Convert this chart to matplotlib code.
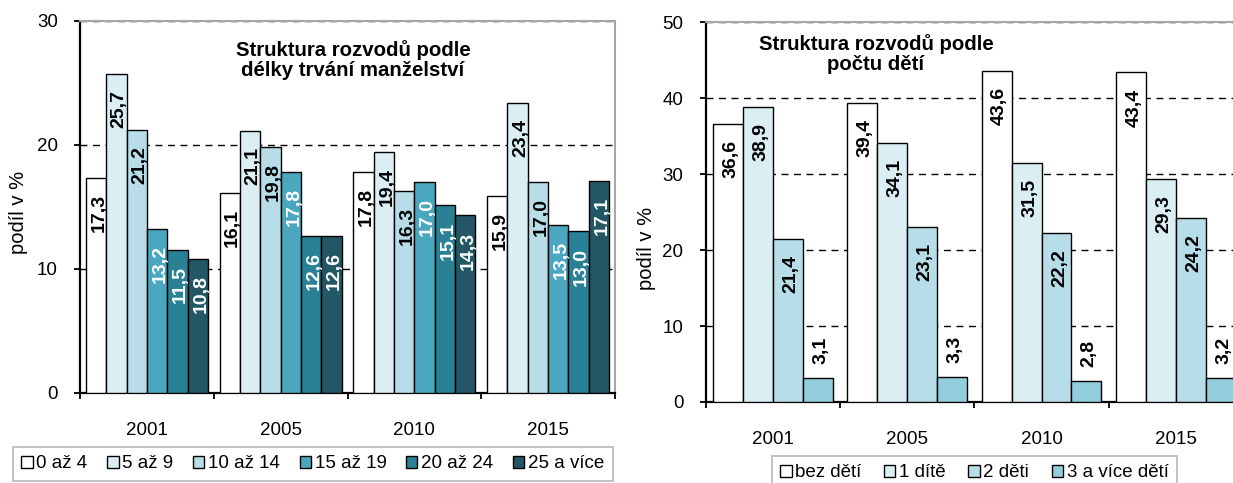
import numpy as np
import matplotlib.pyplot as plt
from matplotlib.patches import Patch

plt.rcParams['font.family'] = ['Liberation Sans', 'DejaVu Sans']

years = ['2001', '2005', '2010', '2015']

# struktura rozvodů podle délky trvání manželství (podíl v %)
dur_labels = ['0 až 4', '5 až 9', '10 až 14', '15 až 19', '20 až 24', '25 a více']
dur_values = [
    [17.3, 16.1, 17.8, 15.9],
    [25.7, 21.1, 19.4, 23.4],
    [21.2, 19.8, 16.3, 17.0],
    [13.2, 17.8, 17.0, 13.5],
    [11.5, 12.6, 15.1, 13.0],
    [10.8, 12.6, 14.3, 17.1],
]
dur_colors = ['#FFFFFF', '#DBEEF4', '#B7DDE8', '#4BA7C0', '#2A8095', '#235766']
dur_textcol = ['black', 'black', 'black', 'white', 'white', 'white']

# struktura rozvodů podle počtu dětí (podíl v %)
kid_labels = ['bez dětí', '1 dítě', '2 děti', '3 a více dětí']
kid_values = [
    [36.6, 39.4, 43.6, 43.4],
    [38.9, 34.1, 31.5, 29.3],
    [21.4, 23.1, 22.2, 24.2],
    [3.1, 3.3, 2.8, 3.2],
]
kid_colors = ['#FFFFFF', '#DBEEF4', '#B7DDE8', '#92CDDC']
kid_textcol = ['black', 'black', 'black', 'black']

W, H = 1233, 483
fig = plt.figure(figsize=(W / 100, H / 100), dpi=100)


def draw(ax, values, colors, textcol, frac, ymax, ystep):
    n = len(values)
    x = np.arange(len(years))
    w = frac / n
    for i, (vals, c) in enumerate(zip(values, colors)):
        pos = x + (i - (n - 1) / 2) * w
        bars = ax.bar(pos, vals, w, color=c, edgecolor='black', linewidth=1.0, zorder=3)
        for b, v in zip(bars, vals):
            txt = f'{v:.1f}'.replace('.', ',')
            cx = b.get_x() + b.get_width() / 2
            if v < 5:
                ax.annotate(txt, (cx, v), xytext=(3, 14), textcoords='offset pixels',
                            rotation=90, ha='center', va='bottom', fontsize=14,
                            fontweight='bold', color=textcol[i], zorder=4)
            else:
                ax.annotate(txt, (cx, v), xytext=(3, -16), textcoords='offset pixels',
                            rotation=90, ha='center', va='top', fontsize=14,
                            fontweight='bold', color=textcol[i], zorder=4)

    ax.set_xlim(-0.5, len(years) - 0.5)
    ax.set_ylim(0, ymax)
    ax.set_yticks(np.arange(0, ymax + 1, ystep))
    ax.set_xticks(x)
    ax.set_xticklabels(years)
    ax.set_xticks(np.arange(-0.5, len(years), 1), minor=True)
    ax.tick_params(axis='x', which='major', length=0, pad=21, labelsize=13.5)
    ax.tick_params(axis='x', which='minor', length=4, width=1.3, direction='out')
    ax.tick_params(axis='y', length=4.5, width=1.3, direction='out', pad=11.5, labelsize=13.5)

    ax.set_axisbelow(True)
    ax.yaxis.grid(True, color='black', linestyle=(0, (5, 4)), linewidth=1.0)
    for s in ['left', 'bottom']:
        ax.spines[s].set_linewidth(1.6)
        ax.spines[s].set_color('black')
    for s in ['top', 'right']:
        ax.spines[s].set_linewidth(1.5)
        ax.spines[s].set_color('#A6A6A6')


# left chart
ax1 = fig.add_axes([80 / W, 1 - 392.7 / H, (615 - 80) / W, (392.7 - 20.7) / H])
draw(ax1, dur_values, dur_colors, dur_textcol, 0.914, 30, 10)
fig.text(353 / W, 1 - 60 / H, 'Struktura rozvodů podle\ndélky trvání manželství',
         ha='center', va='center', fontsize=14.7, fontweight='bold', linespacing=1.1)
fig.text(19 / W, 1 - 212 / H, 'podíl v %', rotation=90, ha='center', va='center', fontsize=14.5)

# right chart (extends past the right edge of the image)
ax2 = fig.add_axes([705.7 / W, 1 - 402 / H, (1243 - 705.7) / W, (402 - 22.3) / H])
draw(ax2, kid_values, kid_colors, kid_textcol, 0.89, 50, 10)
fig.text(876 / W, 1 - 54 / H, 'Struktura rozvodů podle\npočtu dětí',
         ha='center', va='center', fontsize=14.7, fontweight='bold', linespacing=1.1)
fig.text(647 / W, 1 - 248 / H, 'podíl v %', rotation=90, ha='center', va='center', fontsize=14.5)


# legends
def legend(labels, colors, x0, top, colsp):
    handles = [Patch(facecolor=c, edgecolor='black', linewidth=1.0) for c in colors]
    leg = fig.legend(handles, labels, loc='upper left', ncol=len(labels),
                     bbox_to_anchor=(x0 / W, 1 - top / H), frameon=True, fancybox=False,
                     fontsize=13.5, handlelength=0.6, handleheight=0.6, handletextpad=0.2,
                     columnspacing=colsp, borderpad=0.45, borderaxespad=0)
    leg.get_frame().set_edgecolor('#A6A6A6')
    leg.get_frame().set_linewidth(1.2)
    return leg


legend(dur_labels, dur_colors, 13, 447, 1.05)
legend(kid_labels, kid_colors, 772, 456, 1.2)

fig.savefig('out.png', dpi=100)
